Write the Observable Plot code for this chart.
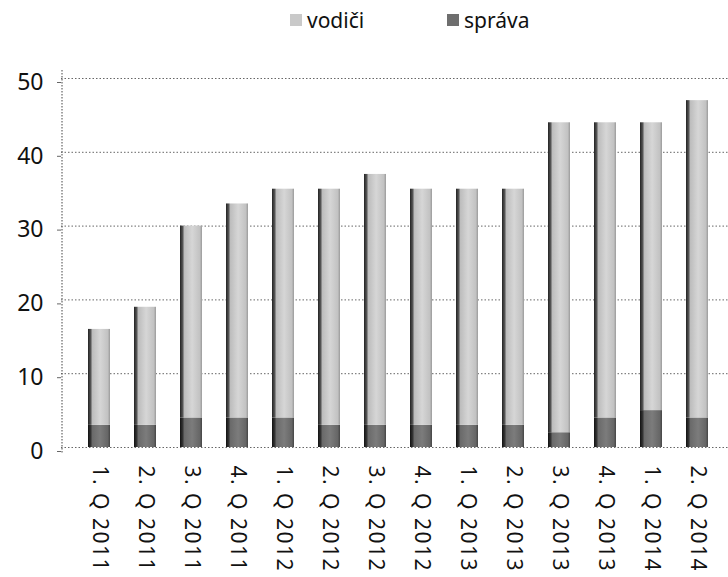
<!DOCTYPE html>
<html>
<head>
<meta charset="utf-8">
<script src="https://cdn.jsdelivr.net/npm/d3@7"></script>
<script src="https://cdn.jsdelivr.net/npm/@observablehq/plot@0.6"></script>
<style>
  html, body { margin: 0; padding: 0; background: #fff; }
  body { width: 728px; height: 577px; overflow: hidden; font-family: "Noto Sans", sans-serif; }
  #legend { height: 48px; position: relative; font-size: 21px; color: #111; }
  .item { position: absolute; top: 6px; display: flex; align-items: center; }
  .sw { width: 12px; height: 12px; margin-right: 5px; }
</style>
</head>
<body>
<div id="legend">
  <div class="item" style="left:290px"><span class="sw" style="background:#c9c9c9"></span>vodiči</div>
  <div class="item" style="left:447px"><span class="sw" style="background:#6e6e6e"></span>správa</div>
</div>
<div id="chart"></div>
<script>
const quarters = ["1. Q 2011","2. Q 2011","3. Q 2011","4. Q 2011","1. Q 2012","2. Q 2012","3. Q 2012","4. Q 2012","1. Q 2013","2. Q 2013","3. Q 2013","4. Q 2013","1. Q 2014","2. Q 2014"];
const sprava = [3,3,4,4,4,3,3,3,3,3,2,4,5,4];
const vodici = [13,16,26,29,31,32,34,32,32,32,42,40,39,43];
const yTicks = [0,10,20,30,40,50];

const rows = quarters.map((q, i) => ({q, sprava: sprava[i], vodici: vodici[i], total: sprava[i] + vodici[i]}));

const H = 529;
const chart = Plot.plot({
  width: 728,
  height: H,
  marginTop: 30,
  marginBottom: 130,
  marginLeft: 61,
  marginRight: 0,
  style: {fontFamily: "Noto Sans, sans-serif", background: "#fff", color: "#111"},
  x: {domain: quarters, range: [61, 736], padding: 0.52, label: null},
  y: {domain: [0, 50], ticks: yTicks, label: null},
  marks: [
    Plot.gridY(yTicks.filter(t => t > 0), {stroke: "#666", strokeOpacity: 1, strokeDasharray: "1.5,2"}),
    Plot.ruleY([0], {stroke: "#666", strokeDasharray: "1.5,2"}),
    Plot.barY(rows, {x: "q", y1: 0, y2: "sprava", fill: "url(#gDark)"}),
    Plot.barY(rows, {x: "q", y1: "sprava", y2: "total", fill: "url(#gLight)"}),
    Plot.axisY({ticks: yTicks, tickSize: 4, tickPadding: 14, fontSize: 23, dy: 4, stroke: "#666"}),
    Plot.axisX({tickSize: 0, tickPadding: 18, tickRotate: 90, fontSize: 21, stroke: "#111"})
  ]
});

const svg = d3.select(chart);
svg.selectAll("[aria-label='x-axis tick label'] text").style("letter-spacing", "1.5px");
const defs = svg.insert("defs", ":first-child");
function grad(id, stops) {
  const g = defs.append("linearGradient").attr("id", id).attr("x1", "0").attr("x2", "1").attr("y1", "0").attr("y2", "0");
  stops.forEach(([o, c]) => g.append("stop").attr("offset", o).attr("stop-color", c));
}
grad("gLight", [[0, "#222"], [0.12, "#555"], [0.2, "#bdbdbd"], [0.55, "#d6d6d6"], [0.9, "#c2c2c2"], [1, "#9a9a9a"]]);
grad("gDark", [[0, "#111"], [0.12, "#333"], [0.2, "#6a6a6a"], [0.55, "#7c7c7c"], [0.9, "#666"], [1, "#444"]]);

// left axis line (value axis), positioned from the y scale
const ys = chart.scale("y");
const yTop = d3.min(ys.range), yBot = d3.max(ys.range);
svg.append("line").attr("x1", 62).attr("x2", 62).attr("y1", yTop - 8).attr("y2", yBot + 6)
  .attr("stroke", "#444").attr("stroke-dasharray", "1.5,1.5");

document.getElementById("chart").appendChild(chart);
</script>
</body>
</html>
